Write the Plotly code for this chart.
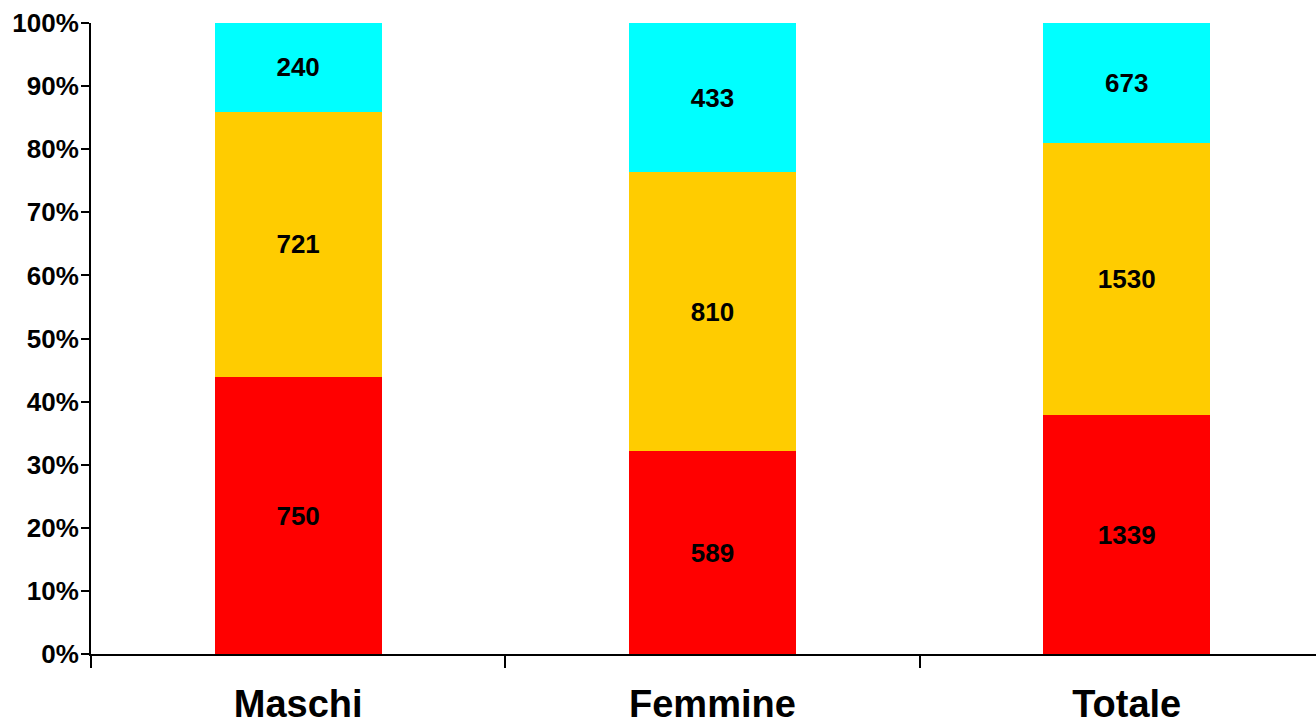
import plotly.graph_objects as go

categories = ["Maschi", "Femmine", "Totale"]
bottom_values = [750, 589, 1339]
middle_values = [721, 810, 1530]
top_values = [240, 433, 673]
y_tick_values = [0, 10, 20, 30, 40, 50, 60, 70, 80, 90, 100]
y_tick_labels = [f"{v}%" for v in y_tick_values]

colors = ["#FF0000", "#FFCC00", "#00FFFF"]
font_family = "Liberation Sans, Arial, sans-serif"

fig = go.Figure()
for vals, col in zip([bottom_values, middle_values, top_values], colors):
    fig.add_trace(go.Bar(
        x=categories,
        y=vals,
        text=vals,
        texttemplate="%{text}",
        textposition="inside",
        insidetextanchor="middle",
        textangle=0,
        textfont=dict(family=font_family, size=26, color="black", weight="bold"),
        marker=dict(color=col, line=dict(width=0)),
        width=0.403,
        showlegend=False,
    ))

fig.update_layout(
    barmode="stack",
    barnorm="percent",
    width=1316,
    height=726,
    margin=dict(l=91, r=0, t=23, b=72),
    plot_bgcolor="white",
    paper_bgcolor="white",
    uniformtext=dict(mode=False),
)

fig.update_xaxes(
    type="category",
    range=[-0.5, 2.457],
    automargin=False,
    showline=True,
    linecolor="black",
    linewidth=2,
    ticks="outside",
    tickson="boundaries",
    ticklen=12,
    tickwidth=2,
    tickcolor="black",
    showgrid=False,
    tickfont=dict(family=font_family, size=38, color="black", weight="bold"),
    ticklabelstandoff=15,
)

fig.update_yaxes(
    range=[0, 100],
    tickvals=y_tick_values,
    ticktext=y_tick_labels,
    automargin=False,
    showline=True,
    linecolor="black",
    linewidth=2,
    ticks="outside",
    ticklen=8,
    tickwidth=2,
    tickcolor="black",
    showgrid=False,
    zeroline=False,
    tickfont=dict(family=font_family, size=26, color="black", weight="bold"),
    ticklabelstandoff=-3,
)

fig.write_html("out.html")
